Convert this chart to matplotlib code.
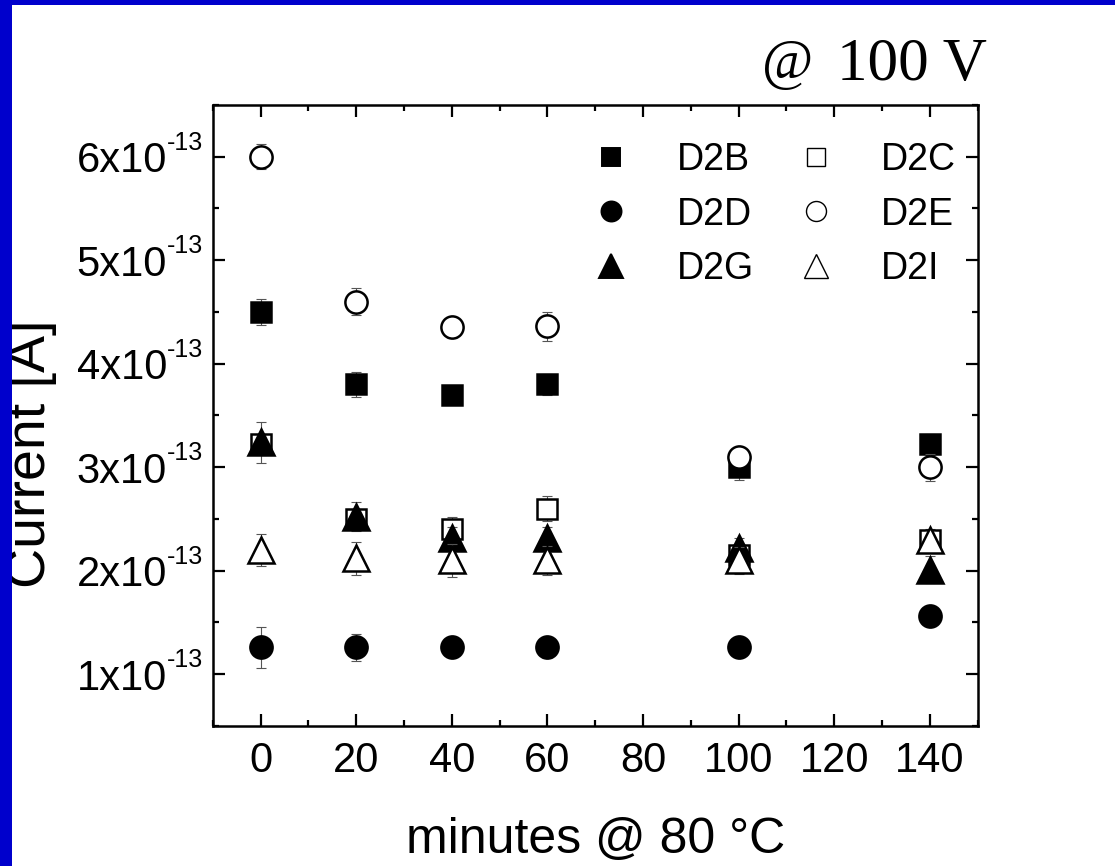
import matplotlib
matplotlib.use("Agg")
import matplotlib.pyplot as plt
from matplotlib.lines import Line2D
from matplotlib.patches import Rectangle
from matplotlib.ticker import MultipleLocator, FuncFormatter

plt.rcParams['font.family'] = ['Liberation Sans', 'DejaVu Sans']

# ---- data (current in units of A) ----
minutes = [0, 20, 40, 60, 100, 140]
series_names = ["D2B", "D2C", "D2D", "D2E", "D2G", "D2I"]
d2b = [4.50e-13, 3.80e-13, 3.70e-13, 3.80e-13, 3.00e-13, 3.22e-13]
d2c = [3.22e-13, 2.50e-13, 2.40e-13, 2.60e-13, 2.15e-13, 2.30e-13]
d2d = [1.26e-13, 1.26e-13, 1.26e-13, 1.26e-13, 1.26e-13, 1.56e-13]
d2e = [6.00e-13, 4.60e-13, 4.35e-13, 4.36e-13, 3.10e-13, 3.00e-13]
d2g = [3.24e-13, 2.52e-13, 2.32e-13, 2.32e-13, 2.22e-13, 2.01e-13]
d2i = [2.20e-13, 2.12e-13, 2.10e-13, 2.10e-13, 2.10e-13, 2.30e-13]
err_d2b = [0.13e-13, 0.12e-13, 0.08e-13, 0.10e-13, 0.12e-13, 0.10e-13]
err_d2c = [0.10e-13, 0.10e-13, 0.12e-13, 0.12e-13, 0.10e-13, 0.10e-13]
err_d2d = [0.20e-13, 0.13e-13, 0.08e-13, 0.10e-13, 0.08e-13, 0.08e-13]
err_d2e = [0.12e-13, 0.13e-13, 0.10e-13, 0.14e-13, 0.05e-13, 0.13e-13]
err_d2g = [0.20e-13, 0.14e-13, 0.10e-13, 0.10e-13, 0.10e-13, 0.13e-13]
err_d2i = [0.15e-13, 0.16e-13, 0.16e-13, 0.14e-13, 0.13e-13, 0.08e-13]
x_ticks = [0, 20, 40, 60, 80, 100, 120, 140]
y_ticks = [1e-13, 2e-13, 3e-13, 4e-13, 5e-13, 6e-13]
y_exponent = "-13"

values = [d2b, d2c, d2d, d2e, d2g, d2i]
errors = [err_d2b, err_d2c, err_d2d, err_d2e, err_d2g, err_d2i]
styles = [
    dict(marker='s', ms=15, mfc='black', mec='black'),
    dict(marker='s', ms=15, mfc='white', mec='black'),
    dict(marker='o', ms=16, mfc='black', mec='black'),
    dict(marker='o', ms=16, mfc='white', mec='black'),
    dict(marker='^', ms=19, mfc='black', mec='black'),
    dict(marker='^', ms=19, mfc='white', mec='black'),
]

fig = plt.figure(figsize=(11.15, 8.66), dpi=100)
ax = fig.add_axes([0.1908, 0.1617, 0.6861, 0.7171])

handles = []
for k, (name, y, e, st) in enumerate(zip(series_names, values, errors, styles)):
    ax.errorbar(minutes, y, yerr=e, fmt='none', ecolor='#555555', elinewidth=0.8,
                capsize=3.5, capthick=0.8, zorder=2 + 0.1 * k)
    ax.plot(minutes, y, linestyle='none', marker=st['marker'], ms=st['ms'],
            mfc=st['mfc'], mec=st['mec'], mew=1.8, zorder=2.05 + 0.1 * k, label=name)
    handles.append(Line2D([], [], linestyle='none', marker=st['marker'],
                          ms=st['ms'] * 0.9, mfc=st['mfc'], mec=st['mec'],
                          mew=1.4 if st['mfc'] == 'black' else 1.0))

ax.set_xlim(-10, 150)
ax.set_ylim(0.5e-13, 6.5e-13)
ax.set_xticks(x_ticks)
ax.xaxis.set_minor_locator(MultipleLocator(10))
ax.set_yticks(y_ticks)
ax.yaxis.set_minor_locator(MultipleLocator(0.5e-13))
ax.yaxis.set_major_formatter(FuncFormatter(lambda v, p: f"{v / 1e-13:.0f}x10"))

ax.tick_params(which='both', direction='in', top=True, right=True, width=1.6,
               labelsize=30)
ax.tick_params(which='major', length=8.5)
ax.tick_params(which='minor', length=4.5)
ax.tick_params(axis='x', which='major', pad=11)
ax.tick_params(axis='y', which='major', pad=33)
for sp in ax.spines.values():
    sp.set_linewidth(1.8)

# exponent superscripts of the y tick labels
for yv in y_ticks:
    ax.annotate(y_exponent, xy=(-0.0595, yv), xycoords=ax.get_yaxis_transform(),
                xytext=(0, 5), textcoords='offset points', fontsize=18,
                ha='left', va='baseline', annotation_clip=False)

ax.set_xlabel("minutes @ 80 °C", fontsize=36, labelpad=26)

fig.text(45 / 1115, 1 - 453.5 / 866, "Current [A]", fontsize=40, rotation=90,
         rotation_mode='anchor', ha='center', va='baseline')

order = [0, 2, 4, 1, 3, 5]
ax.legend([handles[i] for i in order], [series_names[i] for i in order],
          ncol=2, loc='upper right', bbox_to_anchor=(0.972, 0.94),
          borderaxespad=0, borderpad=0, frameon=False, fontsize=27,
          handlelength=1.5, handletextpad=1.0, columnspacing=0.9,
          labelspacing=0.49)

fig.text(762 / 1115, 1 - 79 / 866, "@", fontsize=40, family='Liberation Serif',
         ha='left', va='baseline')
fig.text(987 / 1115, 1 - 80 / 866, "100 V", fontsize=44, family='Liberation Serif',
         ha='right', va='baseline')

# blue slide border (top and left)
fig.patches.append(Rectangle((0, 0), 12 / 1115, 1, transform=fig.transFigure,
                             facecolor='#0000CC', edgecolor='none', zorder=10))
fig.patches.append(Rectangle((0, 1 - 5 / 866), 1, 5 / 866, transform=fig.transFigure,
                             facecolor='#0000CC', edgecolor='none', zorder=10))

fig.savefig("out.png", dpi=100)
